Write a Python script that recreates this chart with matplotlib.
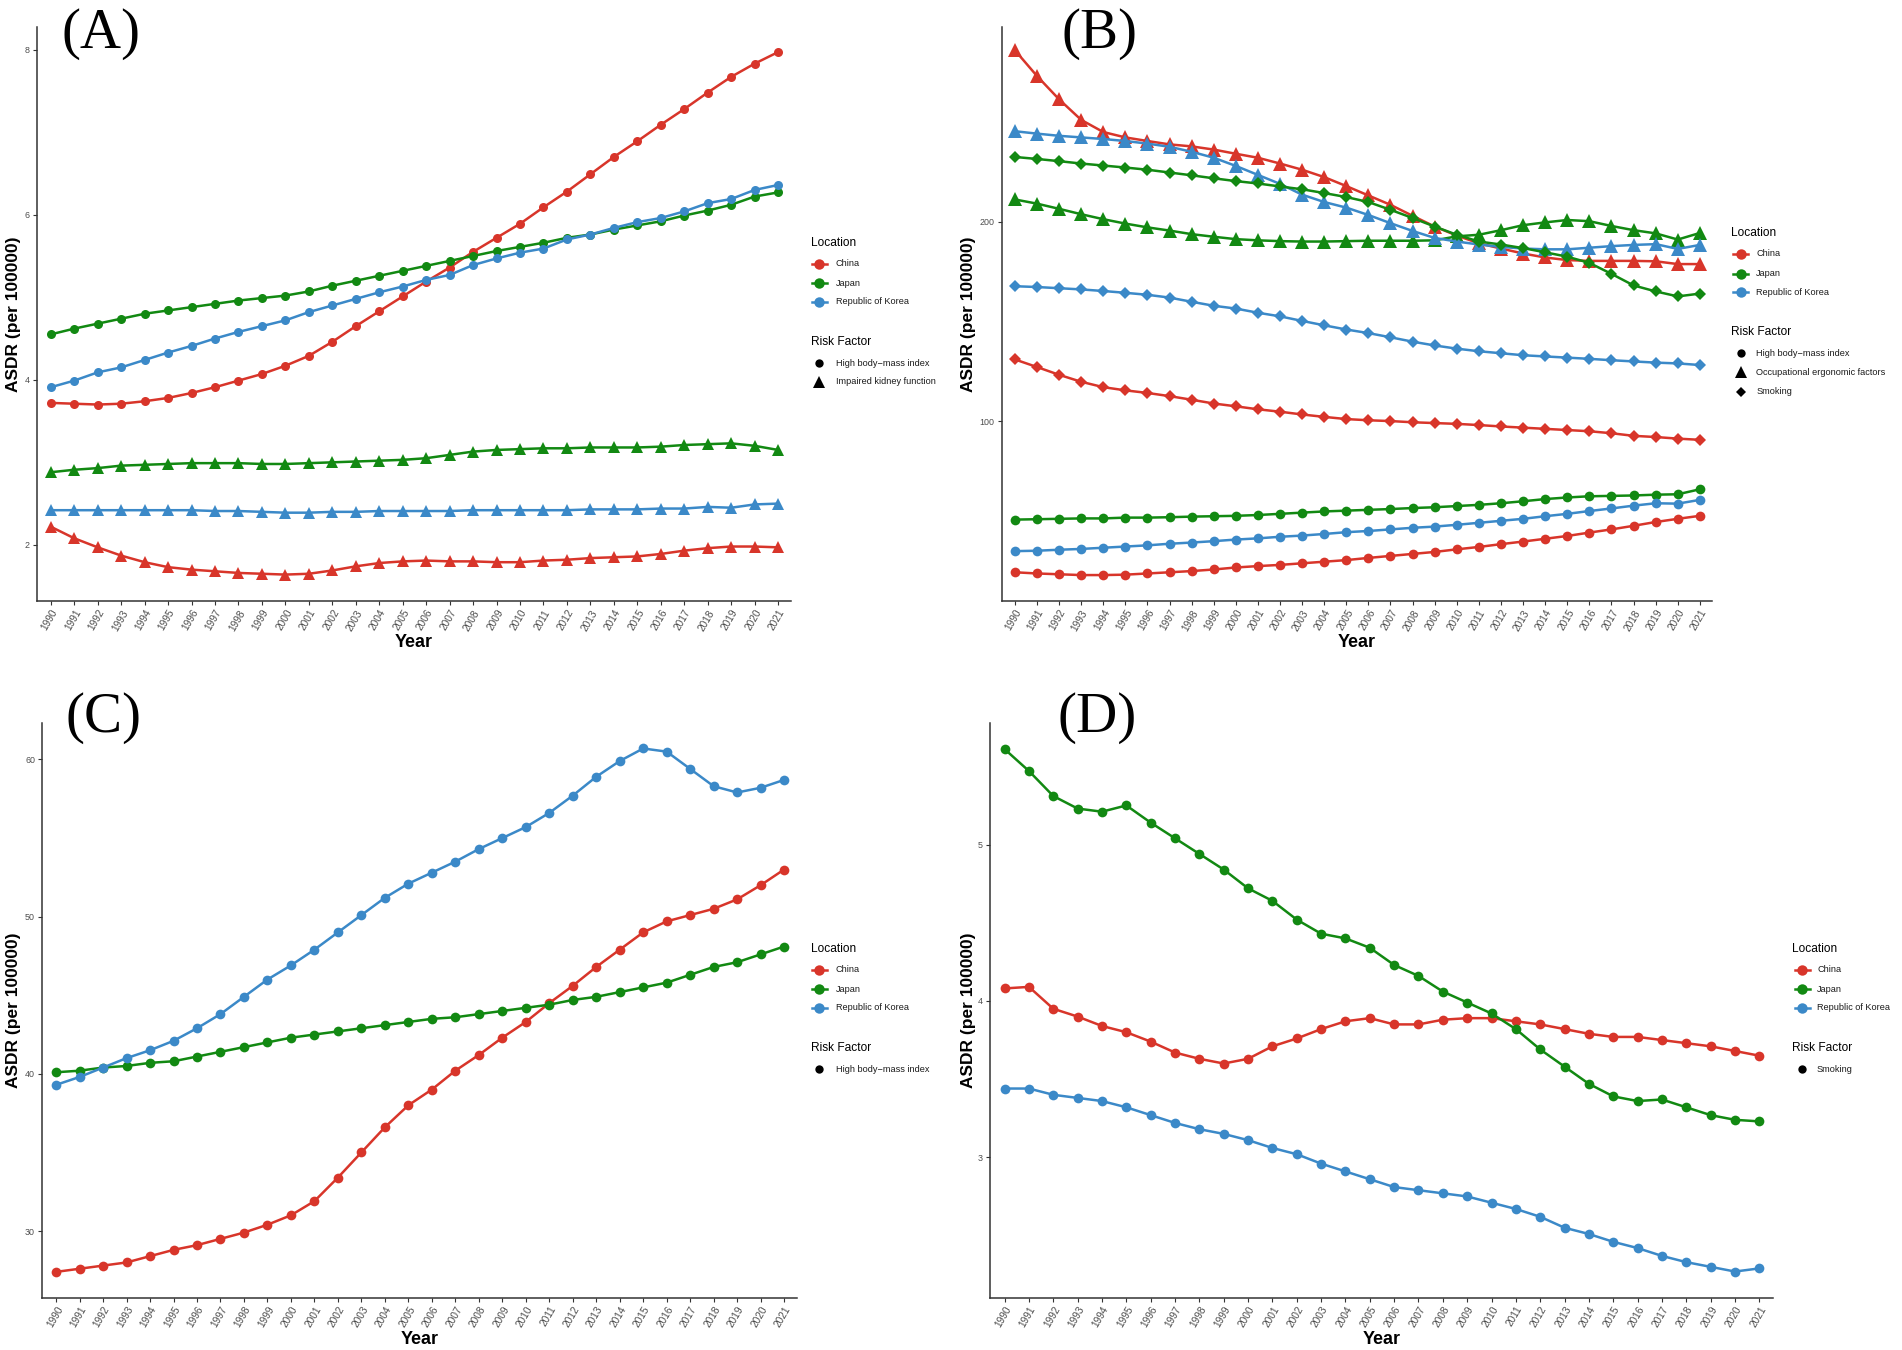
import matplotlib
matplotlib.use("Agg")
import matplotlib.pyplot as plt
from matplotlib.lines import Line2D

W, H = 1902, 1350
plt.rcParams['font.family'] = ['Liberation Sans', 'DejaVu Sans']

years = list(range(1990, 2022))
locations = ["China", "Japan", "Republic of Korea"]
colors = {"China": "#D8352A", "Japan": "#128912", "Republic of Korea": "#3B89C8"}

# ---- panel A ----
a_bmi = {
    "China": [3.72, 3.71, 3.70, 3.71, 3.74, 3.78, 3.84, 3.91, 3.99, 4.07, 4.17, 4.29, 4.46, 4.65, 4.83, 5.01,
              5.19, 5.36, 5.55, 5.72, 5.89, 6.09, 6.28, 6.49, 6.70, 6.89, 7.09, 7.28, 7.48, 7.67, 7.83, 7.97],
    "Japan": [4.55, 4.62, 4.68, 4.74, 4.80, 4.84, 4.88, 4.92, 4.96, 4.99, 5.02, 5.07, 5.14, 5.20, 5.26, 5.32,
              5.38, 5.44, 5.50, 5.56, 5.61, 5.66, 5.72, 5.76, 5.82, 5.87, 5.92, 5.99, 6.05, 6.12, 6.22, 6.27],
    "Republic of Korea": [3.91, 3.99, 4.09, 4.15, 4.24, 4.33, 4.41, 4.50, 4.58, 4.65, 4.72, 4.82, 4.90, 4.98, 5.06, 5.13,
                          5.21, 5.27, 5.39, 5.47, 5.54, 5.59, 5.70, 5.76, 5.84, 5.91, 5.96, 6.04, 6.14, 6.19, 6.30, 6.36],
}
a_kidney = {
    "China": [2.22, 2.08, 1.97, 1.87, 1.79, 1.73, 1.70, 1.68, 1.66, 1.65, 1.64, 1.65, 1.69, 1.74, 1.78, 1.80,
              1.81, 1.80, 1.80, 1.79, 1.79, 1.81, 1.82, 1.84, 1.85, 1.86, 1.89, 1.93, 1.96, 1.98, 1.98, 1.97],
    "Japan": [2.88, 2.91, 2.93, 2.96, 2.97, 2.98, 2.99, 2.99, 2.99, 2.98, 2.98, 2.99, 3.00, 3.01, 3.02, 3.03,
              3.05, 3.09, 3.13, 3.15, 3.16, 3.17, 3.17, 3.18, 3.18, 3.18, 3.19, 3.21, 3.22, 3.23, 3.20, 3.15],
    "Republic of Korea": [2.42, 2.42, 2.42, 2.42, 2.42, 2.42, 2.42, 2.41, 2.41, 2.40, 2.39, 2.39, 2.40, 2.40, 2.41, 2.41,
                          2.41, 2.41, 2.42, 2.42, 2.42, 2.42, 2.42, 2.43, 2.43, 2.43, 2.44, 2.44, 2.46, 2.45, 2.49, 2.50],
}

# ---- panel B ----
b_bmi = {
    "China": [24.4, 23.8, 23.4, 23.0, 23.0, 23.2, 23.8, 24.4, 25.0, 25.8, 26.8, 27.5, 28.1, 28.9, 29.7, 30.5,
              31.6, 32.6, 33.6, 34.6, 35.9, 37.1, 38.5, 39.8, 41.2, 42.6, 44.3, 45.9, 47.7, 49.6, 51.2, 52.7],
    "Japan": [50.8, 51.0, 51.2, 51.4, 51.4, 51.8, 51.8, 52.0, 52.3, 52.5, 52.7, 53.1, 53.7, 54.3, 54.9, 55.3,
              55.7, 56.1, 56.6, 57.0, 57.6, 58.2, 59.0, 60.0, 61.1, 61.9, 62.5, 62.7, 62.9, 63.3, 63.5, 66.0],
    "Republic of Korea": [35.0, 35.2, 35.7, 36.1, 36.7, 37.3, 37.9, 38.7, 39.3, 40.0, 40.8, 41.4, 42.2, 42.8, 43.6, 44.5,
                          45.1, 45.9, 46.7, 47.3, 48.2, 49.2, 50.2, 51.2, 52.5, 53.7, 55.1, 56.4, 57.8, 59.0, 58.8, 60.7],
}
b_occup = {
    "China": [286.1, 273.2, 261.5, 251.2, 245.1, 242.4, 240.6, 238.9, 237.9, 236.3, 234.2, 232.2, 229.3, 226.2, 222.5, 218.0,
              213.3, 208.6, 203.1, 197.7, 193.2, 189.3, 186.7, 184.2, 182.2, 180.9, 180.5, 180.5, 180.5, 180.3, 178.9, 178.9],
    "Japan": [211.3, 209.2, 206.6, 203.9, 201.4, 199.2, 197.3, 195.7, 193.9, 192.6, 191.4, 190.8, 190.4, 190.2, 190.2, 190.4,
              190.6, 190.6, 190.6, 190.8, 192.8, 193.6, 195.9, 198.4, 199.8, 201.0, 200.4, 198.0, 195.9, 194.3, 191.2, 194.5],
    "Republic of Korea": [245.5, 244.3, 243.2, 242.4, 241.6, 240.6, 239.3, 237.7, 235.2, 232.2, 228.1, 223.6, 219.1, 213.7, 210.0, 207.2,
                          203.5, 199.4, 195.5, 192.0, 190.2, 188.7, 187.5, 186.7, 186.3, 186.3, 187.1, 187.9, 188.5, 188.9, 186.5, 188.5],
}
b_smoking = {
    "China": [131.1, 127.3, 123.4, 119.9, 117.2, 115.6, 114.3, 112.7, 110.9, 109.0, 107.6, 106.1, 104.9, 103.5, 102.3, 101.2,
              100.6, 100.2, 99.6, 99.2, 98.8, 98.2, 97.5, 96.9, 96.3, 95.7, 95.1, 94.1, 92.8, 92.2, 91.4, 90.8],
    "Japan": [232.6, 231.6, 230.5, 229.3, 228.3, 227.3, 226.2, 224.8, 223.4, 221.9, 220.5, 219.3, 217.8, 216.4, 214.5, 212.5,
              210.0, 206.1, 202.0, 197.7, 193.6, 190.2, 188.7, 186.9, 184.8, 182.6, 179.5, 174.0, 168.2, 165.2, 162.7, 164.1],
    "Republic of Korea": [167.8, 167.4, 166.8, 166.2, 165.4, 164.5, 163.5, 162.1, 160.0, 158.0, 156.6, 154.5, 152.7, 150.4, 148.2, 146.1,
                          144.3, 142.2, 140.0, 138.1, 136.5, 135.2, 134.2, 133.2, 132.6, 132.0, 131.4, 130.7, 130.1, 129.5, 129.1, 128.3],
}

# ---- panel C ----
c_bmi = {
    "China": [27.4, 27.6, 27.8, 28.0, 28.4, 28.8, 29.1, 29.5, 29.9, 30.4, 31.0, 31.9, 33.4, 35.0, 36.6, 38.0,
              39.0, 40.2, 41.2, 42.3, 43.3, 44.5, 45.6, 46.8, 47.9, 49.0, 49.7, 50.1, 50.5, 51.1, 52.0, 53.0],
    "Japan": [40.1, 40.2, 40.4, 40.5, 40.7, 40.8, 41.1, 41.4, 41.7, 42.0, 42.3, 42.5, 42.7, 42.9, 43.1, 43.3,
              43.5, 43.6, 43.8, 44.0, 44.2, 44.4, 44.7, 44.9, 45.2, 45.5, 45.8, 46.3, 46.8, 47.1, 47.6, 48.1],
    "Republic of Korea": [39.3, 39.8, 40.4, 41.0, 41.5, 42.1, 42.9, 43.8, 44.9, 46.0, 46.9, 47.9, 49.0, 50.1, 51.2, 52.1,
                          52.8, 53.5, 54.3, 55.0, 55.7, 56.6, 57.7, 58.9, 59.9, 60.7, 60.5, 59.4, 58.3, 57.9, 58.2, 58.7],
}

# ---- panel D ----
d_smoking = {
    "China": [4.08, 4.09, 3.95, 3.90, 3.84, 3.80, 3.74, 3.67, 3.63, 3.60, 3.63, 3.71, 3.76, 3.82, 3.87, 3.89,
              3.85, 3.85, 3.88, 3.89, 3.89, 3.87, 3.85, 3.82, 3.79, 3.77, 3.77, 3.75, 3.73, 3.71, 3.68, 3.65],
    "Japan": [5.61, 5.47, 5.31, 5.23, 5.21, 5.25, 5.14, 5.04, 4.94, 4.84, 4.72, 4.64, 4.52, 4.43, 4.40, 4.34,
              4.23, 4.16, 4.06, 3.99, 3.92, 3.82, 3.69, 3.58, 3.47, 3.39, 3.36, 3.37, 3.32, 3.27, 3.24, 3.23],
    "Republic of Korea": [3.44, 3.44, 3.40, 3.38, 3.36, 3.32, 3.27, 3.22, 3.18, 3.15, 3.11, 3.06, 3.02, 2.96, 2.91, 2.86,
                          2.81, 2.79, 2.77, 2.75, 2.71, 2.67, 2.62, 2.55, 2.51, 2.46, 2.42, 2.37, 2.33, 2.30, 2.27, 2.29],
}

fig = plt.figure(figsize=(W / 100, H / 100), dpi=100)


def px_axes(l, t, r, b):
    return fig.add_axes([l / W, 1 - b / H, (r - l) / W, (b - t) / H])


def style(ax, ylim, yticks, ylab_x):
    ax.set_xlim(1989.4, 2021.55)
    ax.set_ylim(*ylim)
    ax.set_xticks(years)
    ax.set_xticklabels([str(y) for y in years], rotation=60, ha="right", va="top",
                       rotation_mode="anchor", fontsize=7.3, color="#4D4D4D")
    ax.set_yticks(yticks)
    ax.set_yticklabels([str(v) for v in yticks], fontsize=6.4, color="#4D4D4D")
    for s in ("top", "right"):
        ax.spines[s].set_visible(False)
    for s in ("left", "bottom"):
        ax.spines[s].set_linewidth(1.1)
        ax.spines[s].set_color("#333333")
    ax.tick_params(length=3, width=0.8, color="#333333", pad=2)
    ax.set_xlabel("Year", fontsize=13, fontweight="bold")
    ax.xaxis.set_label_coords(0.5, -0.058)
    ax.set_ylabel("ASDR (per 100000)", fontsize=12.5, fontweight="bold")
    ax.yaxis.set_label_coords(ylab_x, 0.5)


def series(ax, data, marker, ms):
    for loc in locations:
        ax.plot(years, data[loc], color=colors[loc], lw=1.8, marker=marker, ms=ms,
                markeredgewidth=0, solid_capstyle="round")


def legend(x_title, x_mark, x_text, y_t1, ys_loc, y_t2, ys_rf, rf_labels, rf_markers):
    def fx(x):
        return x / W

    def fy(y):
        return 1 - y / H

    fig.text(fx(x_title), fy(y_t1), "Location", fontsize=8.6, va="center", ha="left")
    for loc, y in zip(locations, ys_loc):
        fig.add_artist(Line2D([fx(x_mark - 7.5), fx(x_mark + 7.5)], [fy(y), fy(y)],
                              color=colors[loc], lw=1.8, transform=fig.transFigure))
        fig.add_artist(Line2D([fx(x_mark)], [fy(y)], marker="o", ms=7.5, mew=0,
                              color=colors[loc], transform=fig.transFigure))
        fig.text(fx(x_text), fy(y), loc, fontsize=6.6, va="center", ha="left", color="#1A1A1A")
    fig.text(fx(x_title), fy(y_t2), "Risk Factor", fontsize=8.6, va="center", ha="left")
    for lab, (mk, ms), y in zip(rf_labels, rf_markers, ys_rf):
        fig.add_artist(Line2D([fx(x_mark)], [fy(y)], marker=mk, ms=ms, mew=0,
                              color="black", transform=fig.transFigure))
        fig.text(fx(x_text), fy(y), lab, fontsize=6.6, va="center", ha="left", color="#1A1A1A")


# Panel A
axA = px_axes(36.7, 26.5, 791, 601)
series(axA, a_bmi, "o", 6.5)
series(axA, a_kidney, "^", 9)
style(axA, (1.32, 8.28), [2, 4, 6, 8], -0.0203)
legend(810.7, 819, 835.7, 243, [263.7, 283, 301.7], 342, [363, 382],
       ["High body\u2212mass index", "Impaired kidney function"], [("o", 6), ("^", 9)])

# Panel B
axB = px_axes(1001.6, 26.5, 1712, 601)
series(axB, b_bmi, "o", 7)
series(axB, b_occup, "^", 10)
series(axB, b_smoking, "D", 6.5)
style(axB, (10, 298), [100, 200], -0.0367)
legend(1731.4, 1740.5, 1756.3, 233.5, [253.9, 273.5, 292.2], 331.8, [353.5, 372.2, 391.8],
       ["High body\u2212mass index", "Occupational ergonomic factors", "Smoking"],
       [("o", 6), ("^", 9), ("D", 5.5)])

# Panel C
axC = px_axes(42, 722.7, 797, 1297.5)
series(axC, c_bmi, "o", 7)
style(axC, (25.77, 62.34), [30, 40, 50, 60], -0.0273)
legend(810.7, 819, 835.7, 949, [969.5, 989, 1008], 1048, [1069],
       ["High body\u2212mass index"], [("o", 6)])

# Panel D
axD = px_axes(990, 722.7, 1772.7, 1297.5)
series(axD, d_smoking, "o", 7)
style(axD, (2.104, 5.779), [3, 4, 5], -0.0185)
legend(1792, 1802, 1817, 949, [970, 989, 1008], 1048, [1069],
       ["Smoking"], [("o", 6)])

# panel letters
for lab, x, y in [("(A)", 61, 33.5), ("(B)", 1062, 33.5), ("(C)", 66, 718.5), ("(D)", 1058, 718.5)]:
    fig.text(x / W, 1 - y / H, lab, fontsize=41, family=["Liberation Serif", "DejaVu Serif"],
             va="center", ha="left")

fig.savefig("out.png", dpi=100)
